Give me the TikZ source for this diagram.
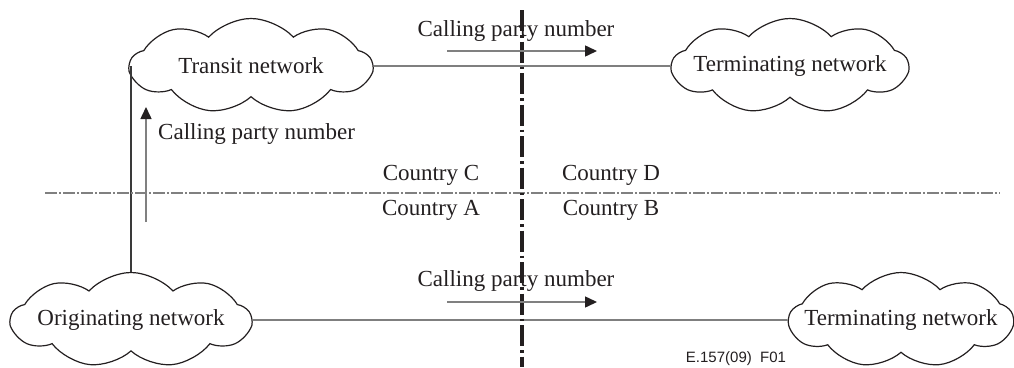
\documentclass[tikz,border=0pt]{standalone}
\usepackage{fontspec}
\setmainfont{Liberation Serif}
\newfontfamily\figsans{Liberation Sans}
\usetikzlibrary{shapes.symbols,arrows.meta}
\definecolor{ink}{HTML}{231F20}
\definecolor{lineclr}{HTML}{3A3A3A}
\definecolor{arrgray}{HTML}{808080}
\tikzset{
  net/.style={cloud, cloud puffs=9, cloud puff arc=95, cloud ignores aspect,
    draw=ink, line width=1.2pt, minimum width=#1, minimum height=95pt,
    inner xsep=-40pt, inner ysep=0pt, text=ink, font=\fontsize{23}{27}\selectfont},
  net/.default=240pt,
  link/.style={draw=lineclr, line width=1.4pt},
  flow/.style={draw=arrgray, line width=1.5pt,
    -{Triangle[length=12pt,width=11pt,color=ink]}},
  lbl/.style={text=ink, font=\fontsize{23}{27}\selectfont, inner sep=0pt},
  border/.style={draw=ink, line width=4.5pt, dash pattern=on 21pt off 4pt on 2.5pt off 4pt},
  divider/.style={draw=arrgray, line width=1.3pt, dash pattern=on 12pt off 2pt on 2pt off 2pt},
}
\begin{document}
\begin{tikzpicture}[x=1pt,y=-1pt]
\useasboundingbox (0,0) rectangle (1014,367);
% clouds
\node[net=242pt] (transit) at (251,66) {Transit network};
\node[net=236pt] (termtop) at (790,66) {Terminating network};
\node[net=240pt] (orig) at (131,320) {Originating network};
\node[net=224pt] (termbot) at (901,320) {Terminating network};
% connectors
\draw[link] (transit.east) -- (termtop.west);
\draw[link] (orig.east) -- (termbot.west);
\draw[link] (orig.north) -- (orig.north |- transit.west);
% divider lines
\coordinate (dl) at (45,193);
\coordinate (dr) at (1000,193);
\draw[divider] (dl) -- (dr);
\coordinate (bt) at (522,10);
\coordinate (bb) at (522,367);
\draw[border] (bt) -- (bb);
% flow arrows
\coordinate (a1s) at (447,51);
\coordinate (a1e) at (597,51);
\draw[flow] (a1s) -- (a1e);
\node[lbl] (l1) at (516,31) {Calling party number};
\coordinate (a2s) at (447,302);
\coordinate (a2e) at (597,302);
\draw[flow] (a2s) -- (a2e);
\node[lbl] (l2) at (516,281) {Calling party number};
\coordinate (a3s) at (146,222);
\coordinate (a3e) at (146,107);
\draw[flow] (a3s) -- (a3e);
\node[lbl, anchor=west] (l3) at (158,134) {Calling party number};
% countries
\node[lbl] (cc) at (431,175) {Country C};
\node[lbl] (cd) at (611,175) {Country D};
\node[lbl] (ca) at (431,210) {Country A};
\node[lbl] (cb) at (611,210) {Country B};
% figure id
\node[text=ink, font=\figsans\fontsize{15}{18}\selectfont, inner sep=0pt] (fid) at (736,359) {E.157(09)\ \ F01};
\end{tikzpicture}
\end{document}
